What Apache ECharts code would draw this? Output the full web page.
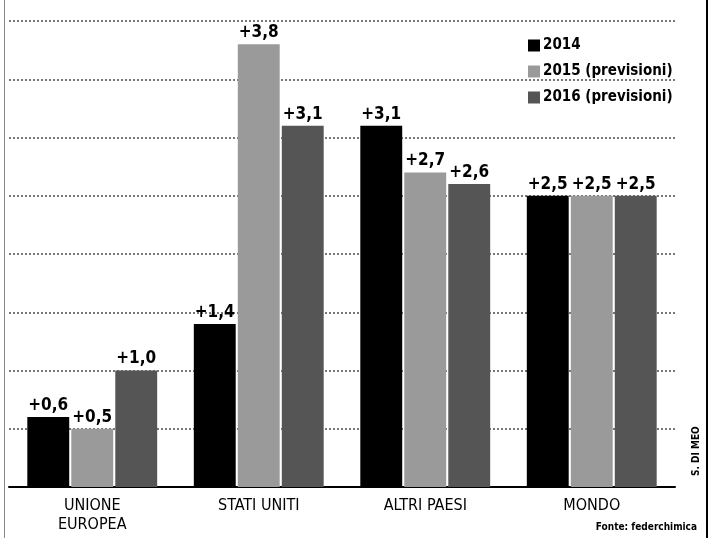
<!DOCTYPE html>
<html>
<head>
<meta charset="utf-8">
<script src="https://cdn.jsdelivr.net/npm/echarts@6/dist/echarts.min.js"></script>
<style>
html,body{margin:0;padding:0;background:#fff;}
#chart{width:712px;height:538px;}
</style>
</head>
<body>
<div id="chart"></div>
<script>
const categories = ['UNIONE\nEUROPEA', 'STATI UNITI', 'ALTRI PAESI', 'MONDO'];
const seriesNames = ['2014', '2015 (previsioni)', '2016 (previsioni)'];
const values2014 = [0.6, 1.4, 3.1, 2.5];
const values2015 = [0.5, 3.8, 2.7, 2.5];
const values2016 = [1.0, 3.1, 2.6, 2.5];
const seriesColors = ['#000000', '#9a9a9a', '#555555'];
const sourceText = 'Fonte: federchimica';
const authorText = 'S. DI MEO';

const FONT = '"DejaVu Sans Condensed", "Liberation Sans Narrow", sans-serif';
const fmt = p => '+' + p.value.toFixed(1).replace('.', ',');

const allValues = [values2014, values2015, values2016];
const chart = echarts.init(document.getElementById('chart'), null, {renderer: 'canvas'});
chart.setOption({
  animation: false,
  backgroundColor: '#ffffff',
  grid: {left: 9, right: 37, top: 21, bottom: 51, containLabel: false},
  legend: {
    orient: 'vertical',
    left: 523,
    top: 33,
    itemWidth: 12,
    itemHeight: 12,
    itemGap: 11,
    icon: 'rect',
    textStyle: {fontFamily: FONT, fontSize: 15, fontWeight: 'bold', color: '#000', lineHeight: 15, padding: [0, 0, 0, -2]},
    data: seriesNames
  },
  xAxis: {
    type: 'category',
    data: categories,
    axisLine: {lineStyle: {color: '#000', width: 2}},
    axisTick: {show: false},
    axisLabel: {fontFamily: FONT, fontSize: 16, color: '#000', lineHeight: 19, margin: 9, interval: 0}
  },
  yAxis: {
    type: 'value',
    min: 0,
    max: 4,
    interval: 0.5,
    axisLine: {show: false},
    axisTick: {show: false},
    axisLabel: {show: false},
    splitLine: {lineStyle: {color: '#777', type: 'dotted', width: 2}}
  },
  series: seriesNames.map((name, i) => ({
    name: name,
    type: 'bar',
    data: allValues[i],
    barGap: '5%',
    barCategoryGap: '22%',
    itemStyle: {color: seriesColors[i]},
    label: {
      show: true,
      position: 'top',
      distance: 3,
      formatter: fmt,
      fontFamily: FONT,
      fontSize: 17,
      fontWeight: 'bold',
      color: '#000'
    }
  })),
  graphic: [
    {type: 'line', shape: {x1: 4.5, y1: 0, x2: 4.5, y2: 538}, style: {stroke: '#888', lineWidth: 1}},
    {type: 'line', shape: {x1: 707, y1: 0, x2: 707, y2: 538}, style: {stroke: '#000', lineWidth: 2}},
    {type: 'text', right: 15, top: 522, style: {text: sourceText, font: 'bold 10px ' + FONT, fill: '#000'}},
    {type: 'text', x: 691, y: 476, rotation: Math.PI / 2, style: {text: authorText, font: 'bold 10px ' + FONT, fill: '#000'}}
  ]
});
</script>
</body>
</html>
